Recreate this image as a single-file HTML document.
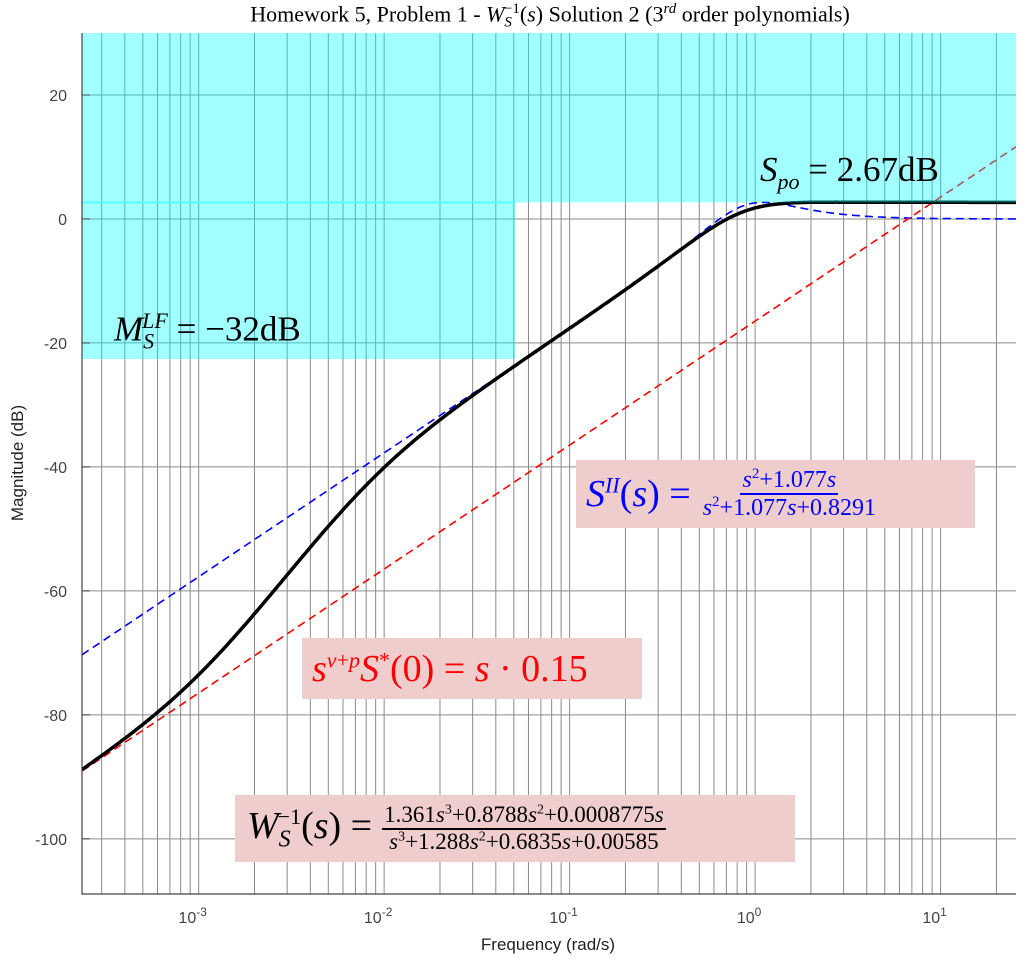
<!DOCTYPE html>
<html><head><meta charset="utf-8">
<style>
body{margin:0;background:#fff;width:1032px;height:970px;overflow:hidden;position:relative;font-family:"Liberation Serif",serif}
.box{position:absolute;background:#f0cdcd;display:flex;align-items:center;white-space:nowrap}
.frac{display:inline-flex;flex-direction:column;align-items:center;vertical-align:middle;margin-left:10px}
.frac .n{border-bottom:2px solid currentColor;padding:0 2px;line-height:1.05}
.frac .d{line-height:1.05;padding:0 2px}
i{font-style:italic}
.lab{position:absolute;white-space:nowrap}
</style></head><body>
<svg id="chart" width="1032" height="970" style="position:absolute;left:0;top:0"></svg>

<div class="box" style="left:576px;top:460px;width:399px;height:68px;color:#0000ff;font-size:38px;padding-left:10px;box-sizing:border-box">
<span><i>S</i><sup style="font-size:22px"><i>II</i></sup>(<i>s</i>) =</span>
<span class="frac" style="font-size:24px"><span class="n"><i>s</i><sup style="font-size:15px">2</sup>+1.077<i>s</i></span><span class="d"><i>s</i><sup style="font-size:15px">2</sup>+1.077<i>s</i>+0.8291</span></span>
</div>

<div class="box" style="left:302px;top:638px;width:340px;height:61px;color:#ff0000;font-size:38px;padding-left:10px;box-sizing:border-box">
<span><i>s</i><sup style="font-size:22px"><i>ν</i>+<i>p</i></sup><i>S</i><sup style="font-size:22px">*</sup>(0) = <i>s</i> · 0.15</span>
</div>

<div class="box" style="left:235px;top:795px;width:560px;height:67px;color:#000;font-size:38px;padding-left:12px;box-sizing:border-box">
<span><i>W</i><sub style="font-size:24px"><i>S</i></sub><sup style="font-size:22px;margin-left:-13px">−1</sup>(<i>s</i>) =</span>
<span class="frac" style="font-size:23px"><span class="n">1.361<i>s</i><sup style="font-size:14px">3</sup>+0.8788<i>s</i><sup style="font-size:14px">2</sup>+0.0008775<i>s</i></span><span class="d"><i>s</i><sup style="font-size:14px">3</sup>+1.288<i>s</i><sup style="font-size:14px">2</sup>+0.6835<i>s</i>+0.00585</span></span>
</div>

<div class="lab" style="left:114px;top:308px;font-size:35px"><i>M</i><sub style="font-size:22px"><i>S</i></sub><sup style="font-size:22px;margin-left:-12px"><i>LF</i></sup> = −32dB</div>
<div class="lab" style="left:760px;top:150px;font-size:35px"><i>S</i><sub style="font-size:22px"><i>po</i></sub> = 2.67dB</div>
<div class="lab" style="left:0;width:1100px;text-align:center;top:1px;font-size:22px">Homework 5, Problem 1 - <i>W</i><sub style="font-size:15px"><i>S</i></sub><sup style="font-size:15px;margin-left:-8px">−1</sup>(<i>s</i>) Solution 2 (3<sup style="font-size:15px"><i>rd</i></sup> order polynomials)</div>

<script>
const xDecades=[-3,-2,-1,0,1];
const yTicks=[20,0,-20,-40,-60,-80,-100];
const wsNum=[1.361,0.8788,0.0008775,0];
const wsDen=[1,1.288,0.6835,0.00585];
const siiNum=[1,1.077,0];
const siiDen=[1,1.077,0.8291];
const lfGain=[0.15];
const spoDb=[2.67];
const mlfDb=[-22.6];
const mlfFreq=[0.0508];

const L=82,R=1016,T=33,B=894;
const xMin=Math.log10(2.35e-4),xMax=Math.log10(25.5),yMin=-108.9,yMax=30;
const X=w=>L+(Math.log10(w)-xMin)/(xMax-xMin)*(R-L);
const Y=d=>B-(d-yMin)/(yMax-yMin)*(B-T);
const svg=document.getElementById('chart');
const NS='http://www.w3.org/2000/svg';
function mk(t,a,p){const e=document.createElementNS(NS,t);for(const k in a)e.setAttribute(k,a[k]);(p||svg).appendChild(e);return e;}
function mag(num,den,w){
  function ev(c){let re=0,im=0;const n=c.length-1;c.forEach((v,i)=>{const p=n-i;const m=Math.pow(w,p);const r=p%4;
    if(r==0)re+=v*m;else if(r==1)im+=v*m;else if(r==2)re-=v*m;else im-=v*m;});return Math.hypot(re,im);}
  return 20*Math.log10(ev(num)/ev(den));
}
for(let d=-4;d<=1;d++)for(let k=1;k<=9;k++){const w=k*Math.pow(10,d);const x=X(w);if(x<L||x>R)continue;
  const g=mk('line',{x1:x,x2:x,y1:T,y2:B,stroke:'#8a8a8a','stroke-width':1});
  }
yTicks.forEach(v=>{const y=Y(v);const g=mk('line',{x1:L,x2:R,y1:y,y2:y,stroke:'#8a8a8a','stroke-width':1});
  
  const t=mk('text',{x:67,y:y+6,'text-anchor':'end','font-size':16,fill:'#444','font-family':'Liberation Sans, sans-serif'});t.textContent=v;
  });
xDecades.forEach(d=>{const x=X(Math.pow(10,d));const t=mk('text',{x:x-6,y:923,'text-anchor':'middle','font-size':16,fill:'#444','font-family':'Liberation Sans, sans-serif'});
  t.innerHTML='10<tspan dy="-7" font-size="12">'+d+'</tspan>';
  });
const clip=mk('clipPath',{id:'cp'});mk('rect',{x:L,y:T,width:R-L,height:B-T},clip);
const g=mk('g',{'clip-path':'url(#cp)'});
function curveG(f,attrs,name){let d='';const N=600;for(let i=0;i<=N;i++){const lw=xMin+(xMax-xMin)*i/N;const w=Math.pow(10,lw);
  d+=(i?'L':'M')+X(w).toFixed(1)+','+Y(f(w)).toFixed(1);}
  const p=mk('path',Object.assign({d:d,fill:'none'},attrs),g);}
curveG(w=>mag(siiNum,siiDen,w),{stroke:'#0000ff','stroke-width':1.6,'stroke-dasharray':'8,5'},'sii-curve');
curveG(w=>20*Math.log10(lfGain[0]*w),{stroke:'#ff0000','stroke-width':1.6,'stroke-dasharray':'8,5'},'low-freq-asymptote');
curveG(w=>mag(wsNum,wsDen,w),{stroke:'#000','stroke-width':3.5},'ws-inverse-curve');
const yS=Y(spoDb[0]),yM=Y(mlfDb[0]),xM=X(mlfFreq[0]);
const c1=mk('rect',{x:L,y:T,width:R-L,height:yS-T,fill:'#00ffff','fill-opacity':0.37});

const c2=mk('rect',{x:L,y:yS,width:xM-L,height:yM-yS,fill:'#00ffff','fill-opacity':0.37});

mk('line',{x1:L,x2:xM,y1:yS,y2:yS,stroke:'#5ff','stroke-width':2});
const ax=mk('path',{d:`M${L},${T}L${L},${B}L${R},${B}`,fill:'none',stroke:'#444','stroke-width':1.2});

for(const v of yTicks){mk('line',{x1:L,x2:L+8,y1:Y(v),y2:Y(v),stroke:'#444'});}
const xl=mk('text',{x:548,y:950,'text-anchor':'middle','font-size':17,fill:'#222','font-family':'Liberation Sans, sans-serif'});xl.textContent='Frequency  (rad/s)';

const yl=mk('text',{x:0,y:0,'text-anchor':'middle','font-size':17,fill:'#222','font-family':'Liberation Sans, sans-serif',transform:'translate(23,463) rotate(-90)'});yl.textContent='Magnitude (dB)';

</script>
</body></html>
